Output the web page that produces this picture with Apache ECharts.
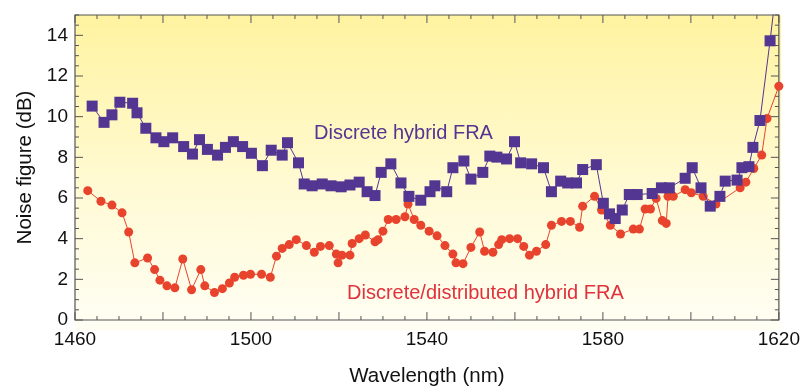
<!DOCTYPE html>
<html>
<head>
<meta charset="utf-8">
<script src="https://cdn.jsdelivr.net/npm/echarts@6/dist/echarts.min.js"></script>
<style>
    html, body { margin: 0; padding: 0; background: #fff; }
    #wrap { position: relative; width: 803px; height: 392px; }
    /* yellow-to-white plot background, sits under the transparent chart canvas */
    #plotbg {
        position: absolute; left: 75px; top: 15px; width: 706px; height: 316px;
        background: linear-gradient(to bottom, #fff3a0 0%, #fffad4 55%, #fffef4 100%);
    }
    #chart { position: absolute; left: 0; top: 0; width: 803px; height: 392px; }
</style>
</head>
<body>
<div id="wrap">
    <div id="plotbg"></div>
    <div id="chart"></div>
</div>
<script>
// Discrete hybrid FRA (squares)
var discreteWl = [1463.9, 1466.6, 1468.4, 1470.2, 1473.1, 1474.1, 1476.1, 1478.4, 1480.2, 1482.2,
    1484.7, 1486.7, 1488.3, 1490.1, 1492.4, 1494.2, 1496.0, 1498.1, 1500.1, 1502.6,
    1504.6, 1507.1, 1508.3, 1510.8, 1512.1, 1513.9, 1516.2, 1518.2, 1520.5, 1522.5,
    1524.6, 1526.4, 1528.2, 1529.6, 1531.8, 1534.1, 1535.9, 1538.6, 1540.7, 1541.8,
    1544.5, 1545.9, 1548.4, 1550.0, 1552.7, 1554.3, 1555.9, 1558.1, 1559.9, 1561.3,
    1563.8, 1566.5, 1568.3, 1570.4, 1572.0, 1574.0, 1575.4, 1578.5, 1580.1, 1581.5,
    1582.8, 1584.4, 1586.0, 1587.8, 1591.2, 1593.3, 1595.1, 1598.7, 1600.3, 1602.3,
    1604.4, 1606.6, 1607.8, 1610.5, 1611.6, 1613.2, 1614.1, 1615.7, 1618.0, 1620];
var discreteNf = [10.52, 9.72, 10.09, 10.71, 10.66, 10.19, 9.43, 8.96, 8.77, 8.96,
    8.53, 8.16, 8.87, 8.39, 8.11, 8.49, 8.77, 8.53, 8.20, 7.59,
    8.35, 8.11, 8.72, 7.73, 6.69, 6.60, 6.69, 6.60, 6.55, 6.64,
    6.78, 6.31, 6.12, 7.26, 7.68, 6.74, 6.08, 5.89, 6.31, 6.60,
    6.31, 7.49, 7.82, 6.93, 7.26, 8.06, 8.01, 7.92, 8.77, 7.73,
    7.68, 7.49, 6.31, 6.83, 6.74, 6.74, 7.40, 7.64, 5.74, 5.22,
    4.99, 5.41, 6.17, 6.17, 6.22, 6.50, 6.50, 6.97, 7.49, 6.50,
    5.60, 6.08, 6.83, 6.88, 7.49, 7.54, 8.49, 9.81, 13.73, 17.4];

// Discrete/distributed hybrid FRA (circles)
var hybridWl = [1462.9, 1465.9, 1468.4, 1470.7, 1472.2, 1473.6, 1476.5, 1478.1, 1479.3, 1480.9,
    1482.7, 1484.5, 1486.5, 1488.6, 1489.5, 1491.7, 1493.5, 1495.1, 1496.3, 1498.3,
    1499.9, 1502.4, 1504.4, 1505.8, 1507.1, 1508.7, 1510.3, 1512.6, 1514.4, 1515.8,
    1517.8, 1519.4, 1519.8, 1520.7, 1522.5, 1523.0, 1524.6, 1526.0, 1528.2, 1528.9,
    1530.0, 1531.2, 1533.0, 1535.0, 1535.7, 1537.1, 1538.6, 1540.5, 1542.3, 1544.1,
    1545.9, 1546.6, 1548.2, 1550.0, 1552.0, 1553.1, 1555.0, 1556.3, 1557.0, 1558.8,
    1560.6, 1562.0, 1563.3, 1564.9, 1567.0, 1568.3, 1570.6, 1572.6, 1574.7, 1575.4,
    1578.1, 1579.7, 1581.7, 1584.0, 1586.9, 1588.3, 1589.6, 1590.8, 1592.1, 1593.5,
    1594.4, 1594.8, 1596.0, 1598.7, 1600.1, 1602.8, 1605.7, 1611.2, 1612.5, 1614.3,
    1616.1, 1617.3, 1620];
var hybridNf = [6.36, 5.84, 5.65, 5.27, 4.33, 2.81, 3.05, 2.48, 1.96, 1.68,
    1.58, 3.00, 1.49, 2.48, 1.68, 1.35, 1.54, 1.82, 2.10, 2.20,
    2.25, 2.25, 2.10, 3.14, 3.52, 3.71, 3.95, 3.66, 3.33, 3.62,
    3.66, 3.24, 2.81, 3.19, 3.19, 3.76, 4.00, 4.18, 3.85, 3.95,
    4.37, 4.94, 4.94, 5.08, 5.70, 4.94, 4.66, 4.37, 4.14, 3.66,
    3.24, 2.81, 2.77, 3.57, 4.33, 3.38, 3.33, 3.71, 3.95, 4.00,
    4.00, 3.62, 3.19, 3.38, 3.71, 4.66, 4.85, 4.85, 4.56, 5.60,
    6.08, 5.41, 4.66, 4.23, 4.47, 4.47, 5.46, 5.46, 5.98, 4.89,
    4.75, 6.08, 6.08, 6.41, 6.26, 6.08, 5.70, 6.50, 6.78, 7.45,
    8.11, 9.91, 11.5];

var seriesNames = ['Discrete hybrid FRA', 'Discrete/distributed hybrid FRA'];

// frame ticks: major marks, minor marks in between
var xMajorTicks = [1460, 1480, 1500, 1520, 1540, 1560, 1580, 1600, 1620];
var yMajorTicks = [0, 2, 4, 6, 8, 10, 12, 14];
var xMinorStep = 5;
var yMinorStep = 0.5;

var xMin = 1460, xMax = 1620, yMin = 0, yMax = 15;

var purple = '#523692';
var red = '#e8432d';
var frameColor = '#555';
var fontFamily = '"Liberation Sans", Arial, sans-serif';

function pairs(xs, ys) {
    var res = [];
    for (var i = 0; i < xs.length; i++) {
        res.push([xs[i], ys[i]]);
    }
    return res;
}

// tick list: [value, length]
function tickList(majors, step, lo, hi) {
    var res = [];
    for (var v = lo; v <= hi + 1e-9; v += step) {
        var r = Math.round(v * 100) / 100;
        res.push([r, majors.indexOf(r) >= 0 ? 8 : 4]);
    }
    return res;
}

var xTickData = tickList(xMajorTicks, xMinorStep, xMin, xMax).map(function (t) {
    return [t[0], yMin, t[1]];
});
var yTickData = tickList(yMajorTicks, yMinorStep, yMin, yMax).map(function (t) {
    return [xMin, t[0], t[1]];
});

function tickLine(x1, y1, x2, y2) {
    return {
        type: 'line',
        shape: { x1: x1, y1: y1, x2: x2, y2: y2 },
        style: { stroke: frameColor, lineWidth: 1 }
    };
}

var chart = echarts.init(document.getElementById('chart'));

var option = {
    backgroundColor: 'transparent',
    animation: false,
    textStyle: { fontFamily: fontFamily },
    grid: {
        left: 75,
        right: 22,
        top: 15,
        bottom: 61,
        show: true,
        backgroundColor: 'transparent',
        borderColor: frameColor,
        borderWidth: 1.2
    },
    xAxis: {
        type: 'value',
        min: xMin,
        max: xMax,
        interval: 20,
        name: 'Wavelength (nm)',
        nameLocation: 'middle',
        nameGap: 46,
        nameTextStyle: { fontSize: 20.5, color: '#111', fontFamily: fontFamily },
        axisLine: { show: false },
        axisTick: { show: false },
        minorTick: { show: false },
        splitLine: { show: false },
        axisLabel: {
            fontSize: 19,
            color: '#111',
            margin: 10,
            showMinLabel: true,
            showMaxLabel: true,
            fontFamily: fontFamily,
            formatter: function (v) {
                return (v - 1460) % 40 === 0 ? String(v) : '';
            }
        }
    },
    yAxis: {
        type: 'value',
        min: yMin,
        max: yMax,
        interval: 2,
        name: 'Noise figure (dB)',
        nameLocation: 'middle',
        nameGap: 38,
        nameTextStyle: { fontSize: 20.5, color: '#111', fontFamily: fontFamily },
        axisLine: { show: false },
        axisTick: { show: false },
        minorTick: { show: false },
        splitLine: { show: false },
        axisLabel: {
            fontSize: 19,
            color: '#111',
            margin: 7,
            fontFamily: fontFamily,
            formatter: function (v) {
                return v <= 14 ? String(v) : '';
            }
        }
    },
    series: [{
        // ticks on bottom and top edges, pointing inward
        type: 'custom',
        silent: true,
        z: 1,
        data: xTickData,
        renderItem: function (params, api) {
            var v = api.value(0), len = api.value(2);
            var b = api.coord([v, yMin]);
            var t = api.coord([v, yMax]);
            return {
                type: 'group',
                children: [
                    tickLine(b[0], b[1], b[0], b[1] - len),
                    tickLine(t[0], t[1], t[0], t[1] + len)
                ]
            };
        }
    }, {
        // ticks on left and right edges, pointing inward
        type: 'custom',
        silent: true,
        z: 1,
        data: yTickData,
        renderItem: function (params, api) {
            var v = api.value(1), len = api.value(2);
            var l = api.coord([xMin, v]);
            var r = api.coord([xMax, v]);
            return {
                type: 'group',
                children: [
                    tickLine(l[0], l[1], l[0] + len, l[1]),
                    tickLine(r[0], r[1], r[0] - len, r[1])
                ]
            };
        }
    }, {
        name: seriesNames[1],
        type: 'line',
        data: pairs(hybridWl, hybridNf),
        symbol: 'circle',
        symbolSize: 9,
        showAllSymbol: true,
        clip: true,
        itemStyle: { color: red },
        lineStyle: { color: red, width: 1 },
        z: 2
    }, {
        name: seriesNames[0],
        type: 'line',
        data: pairs(discreteWl, discreteNf),
        symbol: 'rect',
        symbolSize: 11,
        showAllSymbol: true,
        clip: true,
        itemStyle: { color: purple },
        lineStyle: { color: purple, width: 1 },
        z: 3
    }],
    graphic: [{
        type: 'text',
        left: 314,
        top: 123,
        style: {
            text: seriesNames[0],
            fill: purple,
            font: '20px ' + fontFamily
        }
    }, {
        type: 'text',
        left: 347,
        top: 283,
        style: {
            text: seriesNames[1],
            fill: '#e0323c',
            font: '20px ' + fontFamily
        }
    }]
};

chart.setOption(option);
</script>
</body>
</html>
